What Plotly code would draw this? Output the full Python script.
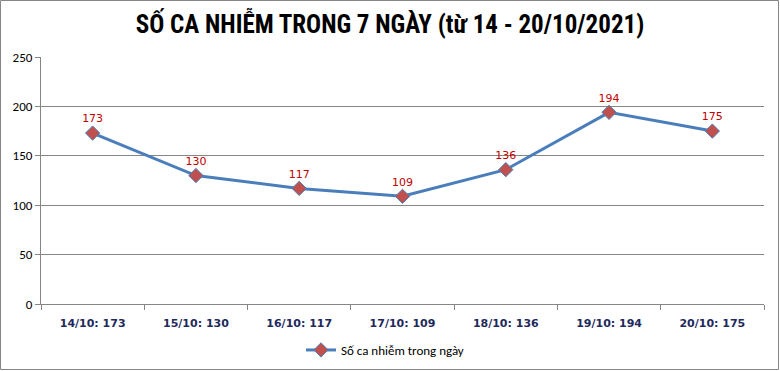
import plotly.graph_objects as go

categories = ["14/10: 173", "15/10: 130", "16/10: 117", "17/10: 109", "18/10: 136", "19/10: 194", "20/10: 175"]
values = [173, 130, 117, 109, 136, 194, 175]
series_name = "Số ca nhiễm trong ngày"
title = "SỐ CA NHIỄM TRONG 7 NGÀY (từ 14 - 20/10/2021)"
y_ticks = [0, 50, 100, 150, 200, 250]

W, H = 780, 371
L, R, T, B = 41, 16, 57, 67
pw, ph = W - L - R, H - T - B

fig = go.Figure()
fig.add_trace(go.Scatter(
    x=categories, y=values, name=series_name,
    mode="lines+markers+text",
    text=[str(v) for v in values], textposition="top center",
    textfont=dict(family="Verdana, DejaVu Sans, sans-serif", size=11, color="#C00000"),
    line=dict(color="#4A7EBB", width=3),
    marker=dict(symbol="diamond", size=11, color="#C0504D", line=dict(color="#4A7EBB", width=1)),
    cliponaxis=False,
))

fig.update_layout(
    width=W, height=H,
    margin=dict(l=L, r=R, t=T, b=B, autoexpand=False),
    paper_bgcolor="white", plot_bgcolor="white",
    title=dict(text="<b>" + title + "</b>", x=0.5, xanchor="center", y=1 - 24 / H, yanchor="middle",
               font=dict(family="Liberation Sans Narrow, Arial Narrow, Roboto Condensed, sans-serif", size=25, color="black")),
    xaxis=dict(type="category", showgrid=False, showline=True, linecolor="#868686", linewidth=1,
               ticks="outside", ticklen=5, tickcolor="#868686", tickson="boundaries",
               tickfont=dict(family="Tahoma, DejaVu Sans, sans-serif", size=11, color="#1F2A5C"),
               ticklabelstandoff=9,
               tickprefix="<b>", ticksuffix="</b>", range=[-0.5, 6.5], fixedrange=True, automargin=False),
    yaxis=dict(range=[0, 250], tickvals=y_ticks, showgrid=True, gridcolor="#868686", gridwidth=1,
               showline=True, linecolor="#868686", ticks="outside", ticklen=5, tickcolor="#868686",
               tickfont=dict(family="Carlito, Calibri, Liberation Sans, sans-serif", size=13, color="black"),
               zeroline=False, fixedrange=True, automargin=False),
    showlegend=True,
    legend=dict(orientation="h", x=(385 - L) / pw, xanchor="center", y=-(350 - (H - B)) / ph, yanchor="middle",
                font=dict(family="Carlito, Calibri, Liberation Sans, sans-serif", size=13, color="black")),
    shapes=[dict(type="rect", xref="paper", yref="paper",
                 x0=-(L - 0.5) / pw, x1=(W - 1.5 - L) / pw,
                 y0=-(B - 1.5) / ph, y1=(H - B - 0.5) / ph,
                 line=dict(color="#868686", width=1), layer="below")],
)

fig.write_html("out.html", config={"displayModeBar": False},
               post_script="document.body.style.margin='0px';document.body.style.overflow='hidden';")
